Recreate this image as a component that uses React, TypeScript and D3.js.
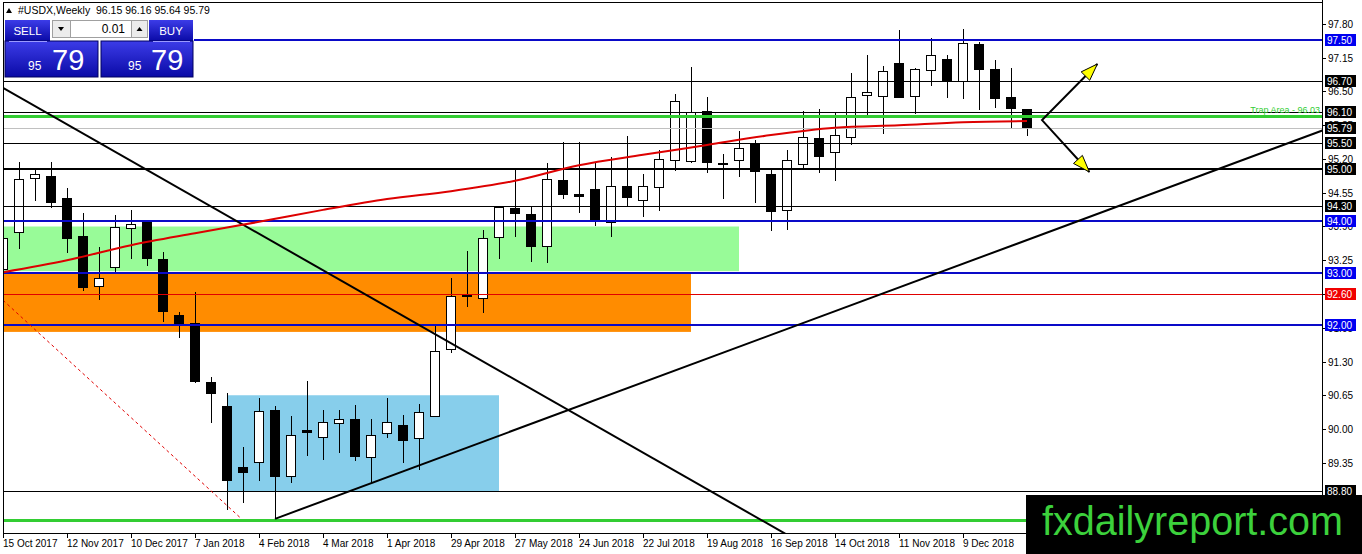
import React from 'react';
import * as d3 from 'd3';

const W = 1362;
const H = 554;
const PL = 3;
const PR = 1322;
const PT = 2;
const PB = 533;

// Weekly OHLC, #USDX, weeks starting 15 Oct 2017
const opens = [93.08, 93.79, 94.83, 94.87, 94.43, 93.70, 92.75, 93.12, 93.87, 94.01, 93.27, 92.18, 92.04, 90.89, 90.44, 89.25, 89.35, 90.35, 89.08, 89.98, 89.83, 90.10, 90.19, 89.46, 89.92, 90.06, 89.81, 90.25, 91.54, 92.58, 92.52, 93.68, 94.24, 94.14, 93.51, 94.78, 94.51, 94.62, 93.97, 94.68, 94.41, 94.66, 95.18, 95.16, 96.12, 95.12, 95.18, 95.49, 94.91, 94.20, 95.10, 95.60, 95.33, 95.62, 96.43, 96.41, 97.03, 96.41, 96.91, 97.11, 96.70, 97.41, 96.93, 96.39, 96.15];
const highs = [93.79, 95.14, 95.03, 95.14, 94.64, 94.16, 93.51, 94.12, 94.22, 94.03, 93.41, 92.25, 92.64, 91.00, 90.69, 89.65, 90.60, 90.44, 90.25, 90.92, 90.37, 90.37, 90.46, 90.19, 90.60, 90.27, 90.48, 92.00, 92.91, 93.43, 93.83, 94.28, 94.99, 94.29, 95.12, 95.53, 95.53, 95.12, 95.24, 95.64, 94.91, 95.37, 96.45, 96.97, 96.39, 95.30, 95.74, 95.57, 94.99, 95.37, 96.12, 96.16, 96.09, 96.86, 97.20, 96.99, 97.68, 96.95, 97.53, 97.20, 97.70, 97.45, 97.11, 96.95, 96.16];
const lows = [93.02, 93.47, 94.39, 94.26, 93.39, 92.66, 92.48, 93.02, 93.27, 93.14, 92.06, 91.75, 90.89, 90.12, 88.44, 88.57, 89.00, 88.27, 88.96, 89.48, 89.40, 89.54, 89.38, 88.96, 89.83, 89.35, 89.21, 90.23, 91.46, 92.35, 92.23, 93.27, 93.70, 93.22, 93.20, 94.43, 94.16, 93.91, 93.70, 94.29, 94.08, 94.20, 94.97, 95.12, 94.93, 94.43, 94.85, 94.35, 93.81, 93.83, 95.03, 94.93, 94.78, 95.47, 95.99, 95.68, 96.37, 96.07, 96.61, 96.37, 96.36, 96.14, 96.18, 95.80, 95.64];
const closes = [93.66, 94.80, 94.91, 94.37, 93.66, 92.73, 92.89, 93.89, 93.93, 93.29, 92.27, 92.02, 90.91, 90.69, 89.00, 89.17, 90.33, 89.09, 89.88, 89.94, 90.12, 90.19, 89.48, 89.88, 90.12, 89.77, 90.31, 91.50, 92.56, 92.56, 93.66, 94.26, 94.16, 93.52, 94.80, 94.51, 94.47, 94.03, 94.68, 94.45, 94.68, 95.20, 96.30, 96.09, 95.14, 95.10, 95.41, 94.95, 94.18, 95.18, 95.62, 95.24, 95.66, 96.39, 96.49, 96.89, 96.39, 96.93, 97.20, 96.70, 97.43, 96.93, 96.36, 96.18, 95.79];

// moving average readings (bar index, value)
const maIdx = [0, 4, 8, 12, 16, 20, 24, 28, 32, 36, 40, 44, 48, 52, 56, 60, 64];
const maVals = [93.02, 93.25, 93.54, 93.77, 93.99, 94.22, 94.43, 94.58, 94.78, 95.08, 95.28, 95.47, 95.66, 95.80, 95.85, 95.91, 95.93];

const dateLabels = ['15 Oct 2017', '12 Nov 2017', '10 Dec 2017', '7 Jan 2018', '4 Feb 2018', '4 Mar 2018', '1 Apr 2018', '29 Apr 2018', '27 May 2018', '24 Jun 2018', '22 Jul 2018', '19 Aug 2018', '16 Sep 2018', '14 Oct 2018', '11 Nov 2018', '9 Dec 2018'];
const dateIdx = [0, 4, 8, 12, 16, 20, 24, 28, 32, 36, 40, 44, 48, 52, 56, 60];
const priceTicks = [97.80, 97.15, 96.50, 95.85, 95.20, 94.55, 93.90, 93.25, 92.60, 91.95, 91.30, 90.65, 90.00, 89.35, 88.70];

const blueLevels = [97.50, 94.00, 93.00, 92.00];
const blackLevels = [96.70, 96.10, 95.50, 94.30, 88.80];
const boldBlackLevels = [95.00];
const redLevels = [92.60];
const greenLevels = [96.03, 88.25];
const trapLevel = 96.03;
const currentPrice = 95.79;

// zones: [startIdx, endIdx, top, bottom]
const greenZone = [-1, 46, 93.90, 93.04];
const orangeZone = [-1, 43, 93.00, 91.87];
const blueZone = [14, 31, 90.65, 88.80];

// trend lines: [idxA, priceA, idxB, priceB]
const downTrend = [0, 96.57, 48, 88.14];
const upTrend = [17, 88.27, 64, 93.64];
const dashedLine = [0, 92.48, 14.8, 88.30];
// arrows: vertex and tips
const arrowVertex = [64.94, 95.95];
const arrowUp = [68.4, 97.03];
const arrowDown = [67.9, 94.95];

const header = '#USDX,Weekly  96.15 96.16 95.64 95.79';

const x = d3.scaleLinear().domain([0, 64]).range([3, 1027]);
const y = d3.scaleLinear().domain([90, 97.8]).range([429, 24]);

const FONT = "'Liberation Sans', Arial, sans-serif";

function ray(t: number[]) {
  const [i1, p1, i2, p2] = t;
  const x1 = x(i1), y1 = y(p1), x2 = x(i2), y2 = y(p2);
  const k = (y2 - y1) / (x2 - x1);
  const xe = PR + 50;
  return { x1, y1, x2: xe, y2: y1 + k * (xe - x1) };
}

function arrowHead(vx: number, vy: number, tx: number, ty: number) {
  const dx = tx - vx, dy = ty - vy;
  const len = Math.hypot(dx, dy);
  const ux = dx / len, uy = dy / len;
  const L = 17, hw = 6;
  const bx = tx - ux * L, by = ty - uy * L;
  const pts = [
    [tx, ty],
    [bx - uy * hw, by + ux * hw],
    [bx + uy * hw, by - ux * hw],
  ];
  return pts.map((p) => p.join(',')).join(' ');
}

export default function App() {
  const maLine = d3
    .line<number>()
    .x((_, k) => x(maIdx[k]))
    .y((d) => y(d))
    .curve(d3.curveMonotoneX)(maVals) as string;

  const down = ray(downTrend);
  const up = ray(upTrend);

  const vx = x(arrowVertex[0]), vy = y(arrowVertex[1]);
  const ux = x(arrowUp[0]), uy = y(arrowUp[1]);
  const dx = x(arrowDown[0]), dy = y(arrowDown[1]);

  const zone = (z: number[], fill: string) => (
    <rect x={x(z[0])} y={y(z[2])} width={x(z[1]) - x(z[0])} height={y(z[3]) - y(z[2])} fill={fill} />
  );

  const hline = (v: number, color: string, w: number, key: string) => (
    <line key={key} x1={PL} x2={PR} y1={Math.round(y(v)) + (w % 2 ? 0.5 : 0)} y2={Math.round(y(v)) + (w % 2 ? 0.5 : 0)} stroke={color} strokeWidth={w} />
  );

  const tag = (v: number, bg: string, key: string) => {
    const yy = Math.round(y(v));
    return (
      <g key={key}>
        <rect x={1325} y={yy - 6} width={31} height={12} fill={bg} />
        <text x={1327} y={yy + 4} fontSize={10} fill="#fff" fontFamily={FONT}>
          {v.toFixed(2)}
        </text>
      </g>
    );
  };

  return (
    <svg width={W} height={H} style={{ position: 'absolute', left: 0, top: 0 }} xmlns="http://www.w3.org/2000/svg">
      <defs>
        <clipPath id="plot">
          <rect x={PL} y={PT} width={PR - PL} height={PB - PT} />
        </clipPath>
        <linearGradient id="btn" x1="0" y1="0" x2="0" y2="1">
          <stop offset="0" stopColor="#3c3ce8" />
          <stop offset="1" stopColor="#0a0aa6" />
        </linearGradient>
      </defs>
      <rect x={0} y={0} width={W} height={H} fill="#fff" />

      <g clipPath="url(#plot)">
        {zone(greenZone, '#98FB98')}
        {zone(orangeZone, '#FF8C00')}
        {zone(blueZone, '#87CEEB')}

        {/* candles */}
        <g shapeRendering="crispEdges">
          {opens.map((o, i) => {
            const c = closes[i];
            const cx = x(i);
            const top = y(Math.max(o, c));
            const bot = y(Math.min(o, c));
            const bull = c >= o;
            return (
              <g key={i}>
                <line x1={cx} x2={cx} y1={y(highs[i])} y2={y(lows[i])} stroke="#000" strokeWidth={1} />
                <rect x={cx - 4.5} y={top} width={9} height={Math.max(1, bot - top)} fill={bull ? '#fff' : '#000'} stroke="#000" strokeWidth={1} />
              </g>
            );
          })}
        </g>

        {/* horizontal levels */}
        {hline(currentPrice, '#c0c0c0', 1, 'cur')}
        {blackLevels.map((v, k) => hline(v, '#000', 1, 'bl' + k))}
        {boldBlackLevels.map((v, k) => hline(v, '#000', 2, 'bb' + k))}
        {redLevels.map((v, k) => hline(v, '#e00000', 1, 'rd' + k))}
        {blueLevels.map((v, k) => hline(v, '#0a0ac8', 2, 'bu' + k))}
        {greenLevels.map((v, k) => hline(v, '#32CD32', 3, 'gr' + k))}

        {/* trend lines */}
        <line x1={down.x1} y1={down.y1} x2={down.x2} y2={down.y2} stroke="#000" strokeWidth={2} />
        <line x1={up.x1} y1={up.y1} x2={up.x2} y2={up.y2} stroke="#000" strokeWidth={2} />
        <line x1={x(dashedLine[0])} y1={y(dashedLine[1])} x2={x(dashedLine[2])} y2={y(dashedLine[3])} stroke="#e00000" strokeWidth={1} strokeDasharray="3,3" />

        {/* moving average */}
        <path d={maLine} fill="none" stroke="#dd0000" strokeWidth={2} />

        {/* arrows */}
        <polyline points={`${ux},${uy} ${vx},${vy} ${dx},${dy}`} fill="none" stroke="#000" strokeWidth={2} />
        <polygon points={arrowHead(vx, vy, ux, uy)} fill="#ffff00" stroke="#000" strokeWidth={1} />
        <polygon points={arrowHead(vx, vy, dx, dy)} fill="#ffff00" stroke="#000" strokeWidth={1} />

        <text x={1320} y={y(trapLevel) - 3} fontSize={9} fill="#32CD32" textAnchor="end" fontFamily={FONT}>
          Trap Area - 96.03
        </text>
      </g>

      {/* frame */}
      <g shapeRendering="crispEdges">
        <line x1={PL + 0.5} x2={PL + 0.5} y1={PT} y2={PB} stroke="#000" />
        <line x1={PL} x2={PR} y1={PT + 0.5} y2={PT + 0.5} stroke="#000" />
        <line x1={PR + 0.5} x2={PR + 0.5} y1={0} y2={PB + 1} stroke="#000" />
        <line x1={PL} x2={PR + 1} y1={PB + 0.5} y2={PB + 0.5} stroke="#000" />
      </g>

      {/* right axis */}
      {priceTicks.map((v, k) => {
        const yy = Math.round(y(v));
        return (
          <g key={'pt' + k}>
            <line x1={PR} x2={PR + 4} y1={yy + 0.5} y2={yy + 0.5} stroke="#000" />
            <text x={1328} y={yy + 4} fontSize={10} fill="#000" fontFamily={FONT}>
              {v.toFixed(2)}
            </text>
          </g>
        );
      })}
      {blackLevels.map((v, k) => tag(v, '#000', 'tb' + k))}
      {boldBlackLevels.map((v, k) => tag(v, '#000', 'tbb' + k))}
      {tag(currentPrice, '#000', 'tcur')}
      {blueLevels.map((v, k) => tag(v, '#0000f0', 'tbu' + k))}
      {redLevels.map((v, k) => tag(v, '#f00000', 'trd' + k))}

      {/* bottom axis */}
      {dateIdx.map((i, k) => (
        <g key={'dt' + k}>
          <line x1={x(i) + 0.5} x2={x(i) + 0.5} y1={PB} y2={PB + 5} stroke="#000" />
          <text x={x(i)} y={547} fontSize={10} fill="#000" fontFamily={FONT}>
            {dateLabels[k]}
          </text>
        </g>
      ))}

      {/* header */}
      <polygon points="6,13 12,13 9,8" fill="#000" />
      <text x={18} y={14} fontSize={10.5} fill="#000" fontFamily={FONT} xmlSpace="preserve">
        {header}
      </text>

      {/* trade panel */}
      <rect x={4} y={17} width={190} height={61} fill="#fff" />
      <rect x={5} y={20} width={45} height={21} fill="url(#btn)" />
      <text x={27.5} y={35} fontSize={11.5} fill="#fff" textAnchor="middle" fontFamily={FONT}>SELL</text>
      <rect x={52.5} y={20.5} width={18} height={17} fill="#ececec" stroke="#a0a0a0" />
      <polygon points="58,27 64,27 61,31" fill="#000" />
      <rect x={70.5} y={20.5} width={61} height={17} fill="#fff" stroke="#a0a0a0" />
      <text x={125} y={33} fontSize={12} fill="#000" textAnchor="end" fontFamily={FONT}>0.01</text>
      <rect x={131.5} y={20.5} width={16} height={17} fill="#ececec" stroke="#a0a0a0" />
      <polygon points="136.5,31 142.5,31 139.5,27" fill="#000" />
      <rect x={149} y={20} width={44} height={21} fill="url(#btn)" />
      <text x={171} y={35} fontSize={11.5} fill="#fff" textAnchor="middle" fontFamily={FONT}>BUY</text>

      <rect x={5} y={41} width={93} height={36} fill="url(#btn)" stroke="#000060" strokeWidth={1} />
      <rect x={101} y={41} width={92} height={36} fill="url(#btn)" stroke="#000060" strokeWidth={1} />
      <line x1={9} x2={47} y1={41.5} y2={41.5} stroke="#9a9aff" />
      <line x1={153} x2={190} y1={41.5} y2={41.5} stroke="#9a9aff" />
      <text x={28} y={70} fontSize={12} fill="#fff" fontFamily={FONT}>95</text>
      <text x={52} y={70} fontSize={29} fill="#fff" fontFamily={FONT}>79</text>
      <text x={128} y={70} fontSize={12} fill="#fff" fontFamily={FONT}>95</text>
      <text x={151} y={70} fontSize={29} fill="#fff" fontFamily={FONT}>79</text>

      {/* brand */}
      <rect x={1026} y={495} width={W - 1026} height={H - 495} fill="#000" />
      <text x={1042} y={535} fontSize={40} fill="#3cd13c" fontFamily={FONT} textLength={301} lengthAdjust="spacingAndGlyphs">
        fxdailyreport.com
      </text>
    </svg>
  );
}
